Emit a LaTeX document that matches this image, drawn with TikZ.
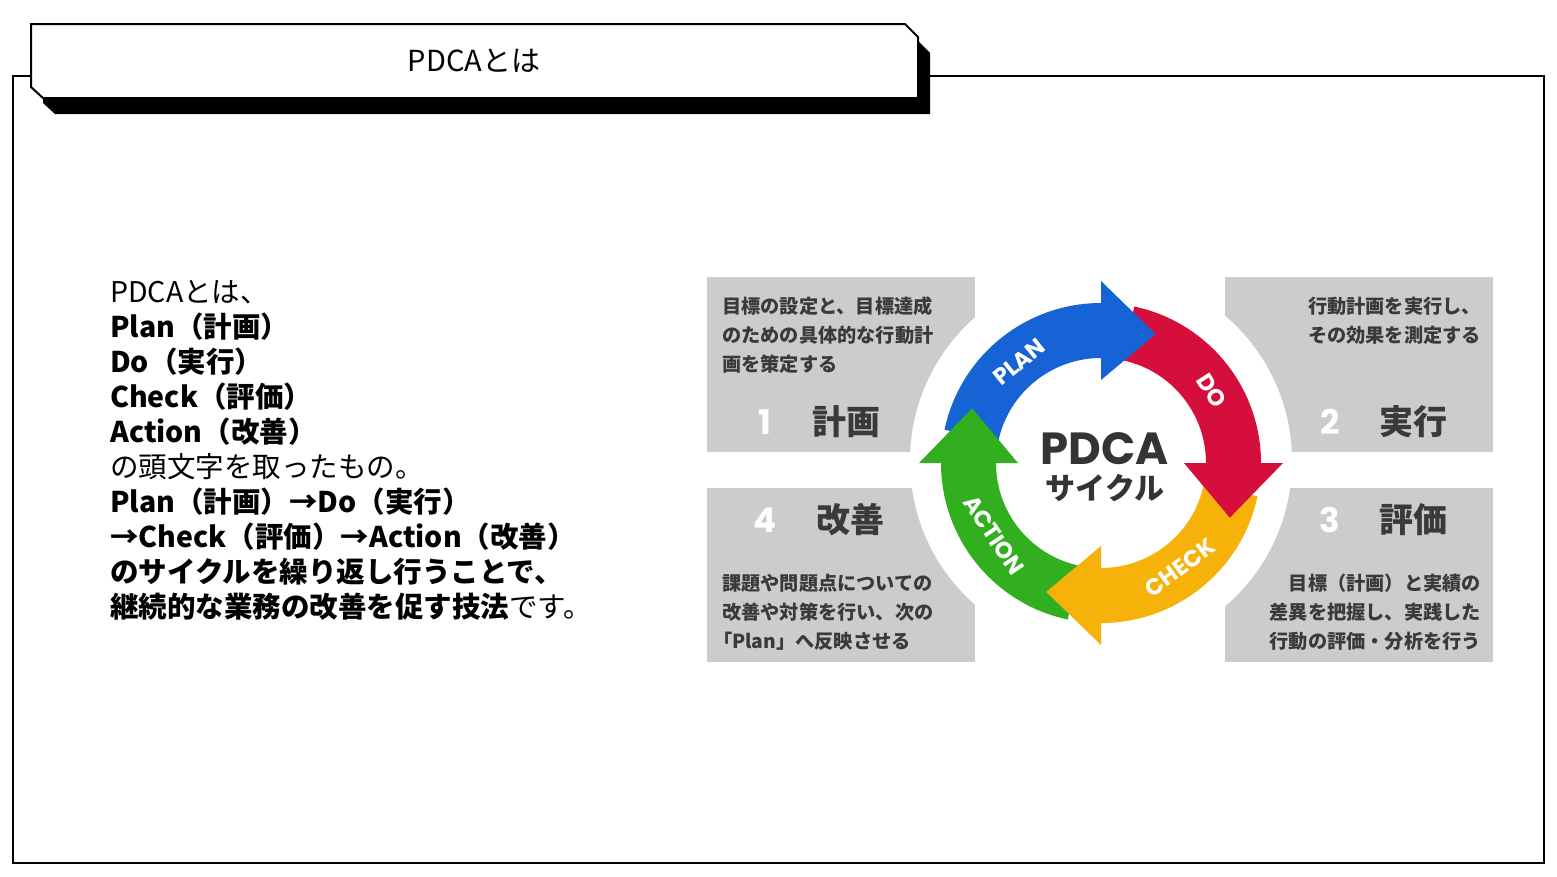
\documentclass[tikz,border=0pt]{standalone}
\usepackage{fontspec}
\setmainfont{Noto Sans CJK JP}
\newfontfamily\jp{Noto Sans CJK JP}
\newfontfamily\pop{Poppins}

\definecolor{pblue}{RGB}{22,99,214}
\definecolor{pred}{RGB}{214,14,60}
\definecolor{pyellow}{RGB}{247,178,10}
\definecolor{pgreen}{RGB}{50,175,30}
\definecolor{boxgray}{RGB}{204,204,204}
\definecolor{inkgray}{RGB}{58,58,58}

\tikzset{
  frameline/.style={draw=black, line width=2pt},
  bodyline/.style={anchor=base west, inner sep=0pt, font=\jp\fontsize{28.5}{35}\selectfont},
  boxtext/.style={inner sep=0pt, text=inkgray, font=\jp\bfseries\fontsize{19.2}{29}\selectfont},
  boxtitle/.style={anchor=base west, inner sep=0pt, text=inkgray, font=\jp\bfseries\fontsize{34}{40}\selectfont},
  boxnum/.style={anchor=base, inner sep=0pt, text=white, font=\pop\bfseries\fontsize{34}{40}\selectfont},
  ringlabel/.style={inner sep=0pt, text=white, font=\pop\bfseries\fontsize{23}{26}\selectfont},
}

\begin{document}
\begin{tikzpicture}[x=1pt, y=-1pt]
\useasboundingbox (0,0) rectangle (1557,876);
\fill[white] (0,0) rectangle (1557,876);

% outer frame
\draw[frameline] (31,76) -- (13,76) -- (13,863) -- (1544,863) -- (1544,76) -- (930,76);

% title tab with its drop shadow
\fill[black] (43,40) -- (917,40) -- (930,53) -- (930,114) -- (55,114) -- (43,103) -- cycle;
\filldraw[fill=white, frameline] (31,24) -- (905,24) -- (918,37) -- (918,98) -- (43,98) -- (31,87) -- cycle;
\node[anchor=base, inner sep=0pt, font=\jp\fontsize{29}{32}\selectfont] (title) at (474,71) {PDCAとは};

% explanatory text
\node[bodyline] (l1) at (110,302) {PDCAとは、};
\node[bodyline] (l2) at (110,337) {\bfseries Plan（計画）};
\node[bodyline] (l3) at (110,372) {\bfseries Do（実行）};
\node[bodyline] (l4) at (110,407) {\bfseries Check（評価）};
\node[bodyline] (l5) at (110,442) {\bfseries Action（改善）};
\node[bodyline] (l6) at (110,477) {の頭文字を取ったもの。};
\node[bodyline] (l7) at (110,512) {\bfseries Plan（計画）→Do（実行）};
\node[bodyline] (l8) at (110,547) {\bfseries →Check（評価）→Action（改善）};
\node[bodyline] (l9) at (110,582) {\bfseries のサイクルを繰り返し行うことで、};
\node[bodyline] (l10) at (110,617) {{\bfseries 継続的な業務の改善を促す技法}です。};

% four gray panels
\fill[boxgray] (707,277) rectangle (975,452);
\fill[boxgray] (1225,277) rectangle (1493,452);
\fill[boxgray] (707,488) rectangle (975,662);
\fill[boxgray] (1225,488) rectangle (1493,662);

% white disc behind the cycle
\fill[white] (1101,461) circle[radius=191pt];

% panel texts
\node[boxtext, anchor=base west] (p1a) at (722,313) {目標の設定と、目標達成};
\node[boxtext, anchor=base west] (p1b) at (722,342) {のための具体的な行動計};
\node[boxtext, anchor=base west] (p1c) at (722,371) {画を策定する};
\node[boxnum] (n1) at (765,434) {1};
\node[boxtitle] (h1) at (812,434) {計画};

\node[boxtext, anchor=base east] (p2a) at (1481,313) {行動計画を実行し、};
\node[boxtext, anchor=base east] (p2b) at (1481,342) {その効果を測定する};
\node[boxnum] (n2) at (1330,434) {2};
\node[boxtitle] (h2) at (1379,434) {実行};

\node[boxnum] (n3) at (1330,532) {3};
\node[boxtitle] (h3) at (1379,532) {評価};
\node[boxtext, anchor=base east] (p3a) at (1481,590) {目標（計画）と実績の};
\node[boxtext, anchor=base east] (p3b) at (1481,619) {差異を把握し、実践した};
\node[boxtext, anchor=base east] (p3c) at (1481,648) {行動の評価・分析を行う};

\node[boxnum] (n4) at (765,532) {4};
\node[boxtitle] (h4) at (816,532) {改善};
\node[boxtext, anchor=base west] (p4a) at (722,590) {課題や問題点についての};
\node[boxtext, anchor=base west] (p4b) at (722,619) {改善や対策を行い、次の};
\node[boxtext, anchor=base west] (p4c) at (713,648) {「Plan」へ反映させる};

% the cycle of four curved arrows
\begin{scope}[shift={(1101,463)}]
  \foreach \b/\c in {90/pblue, 0/pred, -90/pyellow, 180/pgreen} {
    \fill[\c] ({\b+78}:160pt) arc[start angle={\b+78}, end angle={\b-2}, radius=160pt]
      -- ({\b-2}:105pt) arc[start angle={\b-2}, end angle={\b+78}, radius=105pt] -- cycle;
  }
  \foreach \b/\c in {90/pblue, 0/pred, -90/pyellow, 180/pgreen} {
    \fill[\c] (\b:182pt) -- ({\b-23}:140pt) -- (\b:83pt) -- cycle;
  }
  \node[ringlabel, rotate=39] (plan) at (129:130pt) {PLAN};
  \node[ringlabel, rotate=-57] (do) at (33:132pt) {DO};
  \node[ringlabel, rotate=37] (check) at (-53:131pt) {CHECK};
  \node[ringlabel, rotate=-56] (action) at (-146:129pt) {ACTION};
\end{scope}

% centre caption
\node[anchor=base, inner sep=0pt, text=inkgray!90!black, font=\pop\bfseries\fontsize{45}{48}\selectfont] (pdca) at (1105,464) {PDCA};
\node[anchor=base, inner sep=0pt, text=inkgray!90!black, font=\jp\bfseries\fontsize{30}{34}\selectfont] (cycle) at (1105,499) {サイクル};
\end{tikzpicture}
\end{document}
